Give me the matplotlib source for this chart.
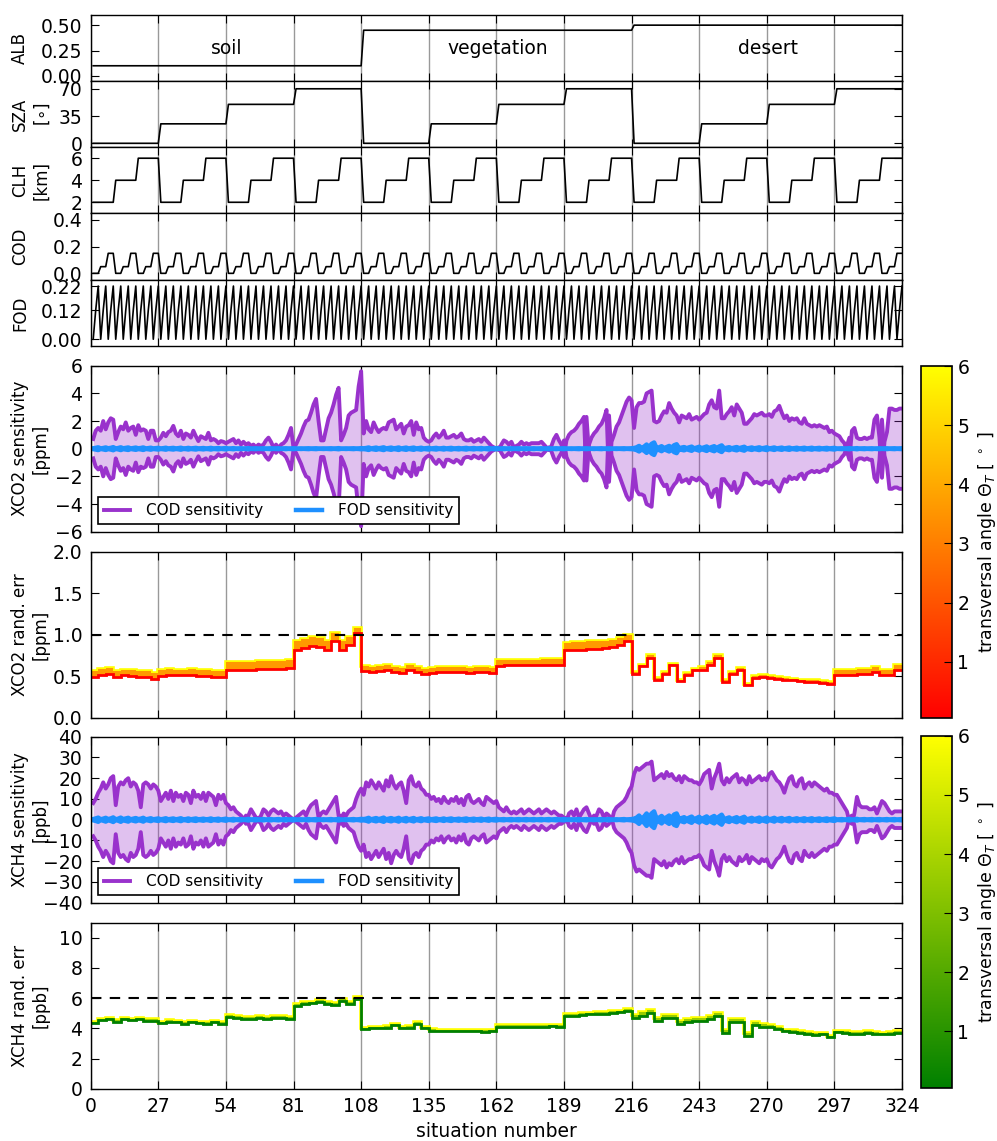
import itertools
import numpy as np
import matplotlib
matplotlib.use("Agg")
import matplotlib.pyplot as plt
from matplotlib.colors import Normalize, LinearSegmentedColormap
from matplotlib.cm import ScalarMappable

# ---- scenario design (factorial: surface x SZA x cloud height x COD x FOD) ----
surface_names = ["soil", "vegetation", "desert"]
alb_levels = [0.10, 0.45, 0.50]
sza_levels = [0, 25, 50, 70]
clh_levels = [2, 4, 6]
cod_levels = [0.0, 0.05, 0.15]
fod_levels = [0.0, 0.12, 0.22]

# ---- sensitivities per situation (1..324), one row per block of 27 ----
xco2_cod_sens = [
    0.7, 1.3, 1.5, 1.3, 2.0, 1.4, 1.9, 2.2, 2.1, 0.7, 1.2, 1.6, 1.4, 1.9, 1.3, 1.5, 1.6, 1.0, 1.7, 1.3, 1.4, 1.3, 0.7, 1.3, 1.3, 0.6, 0.6,
    0.8, 1.15, 0.9, 1.2, 1.3, 1.65, 1.1, 0.9, 1.3, 0.7, 1.1, 1.0, 0.8, 1.3, 0.9, 0.55, 0.9, 0.8, 0.7, 1.15, 0.6, 0.7, 0.6, 0.4, 0.55, 0.5, 0.4,
    0.5, 0.6, 0.7, 0.4, 0.6, 0.3, 0.5, 0.3, 0.4, 0.2, 0.3, 0.1, 0.3, 0.2, 0.3, 0.6, 0.8, 0.5, 0.1, -0.3, -0.1, 0.3, 0.4, 0.6, 1.0, 1.5, 0.05,
    0.3, 0.7, 1.1, 1.6, 2.0, 2.1, 2.6, 3.2, 3.6, 2.0, 0.6, 0.6, 1.4, 2.2, 2.6, 3.2, 3.9, 4.4, 0.6, 1.0, 1.5, 2.4, 2.6, 2.7, 2.8, 4.5, 5.6,
    1.1, 2.0, 1.4, 1.2, 1.9, 1.5, 1.2, 1.4, 1.5, 1.4, 1.9, 2.0, 2.1, 1.4, 1.6, 1.8, 1.1, 1.6, 1.7, 2.0, 1.0, 1.9, 1.4, 1.5, 0.8, 0.6, 0.5,
    0.6, 0.9, 1.1, 0.8, 1.0, 1.3, 0.8, 0.8, 0.9, 1.0, 0.8, 0.9, 1.1, 0.7, 0.6, 0.6, 0.7, 0.5, 0.6, 0.7, 0.5, 0.8, 0.6, 0.4, 0.2, 0.1, 0.0,
    -0.1, 0.3, 0.6, 0.5, 0.3, 0.5, 0.1, 0.2, 0.3, 0.5, 0.3, 0.4, 0.3, 0.4, 0.4, 0.4, 0.4, 0.5, 0.3, 0.1, -0.1, 0.2, 0.7, 1.0, 0.6, 0.3, -0.6,
    0.6, 1.0, 1.2, 1.3, 1.5, 1.8, 2.0, 2.3, -2.3, 0.3, 0.8, 1.1, 1.3, 1.6, 1.8, 2.2, 2.8, -2.4, 0.5, 1.0, 1.6, 1.9, 2.4, 2.9, 3.4, 3.7, 3.5,
    1.5, 3.0, 3.3, 3.3, 3.4, 4.0, 4.1, 4.2, 2.0, 1.9, 2.0, 2.4, 2.7, 2.6, 3.3, 2.9, 2.6, 2.4, 1.9, 2.4, 2.3, 2.2, 2.5, 2.1, 2.2, 2.3, 2.1,
    2.3, 2.5, 2.6, 3.2, 3.5, 3.0, 2.9, 4.2, 2.2, 2.2, 2.5, 2.7, 3.0, 2.4, 3.2, 2.9, 2.6, 1.8, 1.8, 2.0, 2.2, 2.5, 2.4, 2.5, 2.6, 2.4, 2.4,
    2.5, 2.3, 2.7, 2.8, 3.1, 2.6, 2.2, 2.4, 2.0, 2.2, 2.1, 2.2, 1.9, 1.8, 2.2, 1.8, 1.7, 1.6, 1.7, 1.6, 1.7, 1.6, 1.5, 1.6, 1.2, 1.3, 1.1,
    1.0, 0.9, 0.6, 0.4, -0.2, -0.8, 1.3, 1.5, 0.8, 0.7, 0.7, 0.8, 0.7, 0.8, 0.8, 2.1, 2.4, 0.8, -2.1, 0.5, 1.2, 2.9, 2.9, 2.8, 2.8, 2.9, 2.9,
]
xco2_fod_sens = [
    0.03, 0.06, 0.10, 0.02, 0.05, 0.09, 0.03, 0.06, 0.11, 0.02, 0.05, 0.10, 0.03, 0.06, 0.09, 0.02, 0.05, 0.08, 0.03, 0.05, 0.09, 0.02, 0.04, 0.07, 0.02, 0.04, 0.06,
    0.02, 0.04, 0.07, 0.02, 0.04, 0.06, 0.02, 0.04, 0.07, 0.02, 0.03, 0.06, 0.02, 0.04, 0.06, 0.02, 0.03, 0.05, 0.02, 0.03, 0.06, 0.02, 0.03, 0.05, 0.01, 0.03, 0.05,
    0.01, 0.02, 0.04, 0.01, 0.02, 0.03, 0.01, 0.02, 0.04, 0.01, 0.02, 0.03, 0.01, 0.02, 0.03, 0.01, 0.02, 0.03, 0.01, 0.02, 0.03, 0.01, 0.02, 0.03, 0.01, 0.02, 0.03,
    0.01, 0.01, 0.02, 0.01, 0.02, 0.03, 0.01, 0.02, 0.03, 0.01, 0.01, 0.02, 0.01, 0.02, 0.03, 0.01, 0.02, 0.04, 0.01, 0.01, 0.02, 0.01, 0.02, 0.03, 0.01, 0.02, 0.04,
    0.03, 0.05, 0.09, 0.02, 0.05, 0.08, 0.03, 0.06, 0.10, 0.02, 0.05, 0.08, 0.03, 0.05, 0.09, 0.02, 0.05, 0.08, 0.02, 0.05, 0.08, 0.02, 0.04, 0.07, 0.02, 0.04, 0.06,
    0.02, 0.04, 0.06, 0.02, 0.03, 0.06, 0.02, 0.04, 0.06, 0.02, 0.03, 0.05, 0.02, 0.04, 0.06, 0.02, 0.03, 0.05, 0.02, 0.03, 0.05, 0.01, 0.03, 0.05, 0.01, 0.03, 0.04,
    0.01, 0.02, 0.03, 0.01, 0.02, 0.03, 0.01, 0.02, 0.03, 0.01, 0.02, 0.03, 0.01, 0.02, 0.03, 0.01, 0.02, 0.03, 0.01, 0.02, 0.03, 0.01, 0.02, 0.03, 0.01, 0.02, 0.03,
    0.01, 0.01, 0.02, 0.01, 0.02, 0.03, 0.01, 0.02, 0.03, 0.01, 0.01, 0.02, 0.01, 0.02, 0.03, 0.01, 0.02, 0.03, 0.01, 0.01, 0.02, 0.01, 0.02, 0.03, 0.01, 0.02, 0.03,
    0.05, 0.10, 0.20, 0.06, 0.15, 0.30, 0.12, 0.35, 0.45, 0.04, 0.10, 0.18, 0.05, 0.12, 0.20, 0.08, 0.25, 0.32, 0.03, 0.08, 0.12, 0.04, 0.10, 0.15, 0.03, 0.08, 0.14,
    0.04, 0.10, 0.16, 0.05, 0.12, 0.18, 0.06, 0.16, 0.24, 0.03, 0.07, 0.11, 0.03, 0.08, 0.12, 0.04, 0.09, 0.14, 0.02, 0.05, 0.09, 0.03, 0.06, 0.10, 0.03, 0.06, 0.10,
    0.02, 0.05, 0.09, 0.02, 0.05, 0.08, 0.02, 0.05, 0.08, 0.02, 0.04, 0.07, 0.02, 0.04, 0.07, 0.02, 0.04, 0.07, 0.02, 0.04, 0.06, 0.02, 0.04, 0.06, 0.02, 0.04, 0.06,
    0.01, 0.02, 0.03, 0.01, 0.02, 0.04, 0.01, 0.02, 0.04, 0.01, 0.02, 0.03, 0.01, 0.02, 0.03, 0.01, 0.02, 0.03, 0.01, 0.02, 0.03, 0.01, 0.02, 0.03, 0.01, 0.02, 0.03,
]
xch4_cod_sens = [
    8, 10, 13, 15, 18, 15, 17, 20, 21, 7, 16, 18, 17, 19, 20, 16, 18, 17, 14, 6, 17, 18, 17, 15, 17, 16, 14,
    9, 11, 13, 10, 14, 9, 13, 11, 12, 9, 13, 12, 8, 14, 11, 12, 10, 13, 9, 13, 12, 11, 7, 12, 10, 12, 8,
    7, 5, 6, 4, 3, 2, 0.5, -2, 2, 5, 3, 1, -1, 2, 5, 4, 2, 4, 5, 4, 3, 4, 2, 3, 2, 1, 0,
    1, 2, 3, 4, 2, 5, 7, 8, 9, 1, 3, 4, 3, 5, 7, 9, 11, 2, -2, 3, 2, 4, 5, 6, 10, 13, 15,
    12, 18, 16, 19, 17, 15, 18, 16, 14, 19, 16, 21, 17, 15, 17, 18, 14, 8, 19, 21, 17, 16, 18, 15, 14, 12, 12,
    10, 11, 9, 10, 8, 11, 9, 8, 10, 9, 11, 8, 10, 7, 11, 12, 9, 8, 9, 10, 8, 7, 11, 10, 9, 8, 9,
    6, 5, 4, 6, 4, 3, 4, 3, 4, 5, 3, 4, 5, 4, 3, 4, 5, 3, 4, 5, 4, 3, 4, 3, 2, 2, 1,
    -1, 3, 4, 2, 5, 1, 3, 5, 6, 3, 0, -2, 2, 5, 4, 1, 3, 2, -1, 4, 6, 7, 8, 9, 11, 14, 16,
    22, 25, 24, 25, 26, 27, 27, 28, 19, 20, 21, 22, 20, 23, 21, 22, 20, 19, 21, 18, 21, 20, 19, 19, 18, 18, 17,
    19, 22, 23, 24, 15, 20, 23, 27, 19, 17, 20, 18, 20, 21, 22, 18, 20, 19, 17, 21, 18, 19, 20, 21, 19, 20, 19,
    22, 23, 21, 19, 18, 16, 13, 17, 20, 21, 17, 16, 19, 20, 15, 17, 18, 16, 18, 17, 16, 15, 14, 15, 13, 13, 12,
    12, 10, 8, 6, 4, -1, -2, 3, 11, 7, 6, 6, 6, 5, 5, 6, 3, 6, 9, 8, 6, 4, 3, 4, 4, 4, 4,
]
xch4_fod_sens = [
    0.3, 0.6, 1.0, 0.2, 0.5, 0.9, 0.3, 0.6, 1.1, 0.2, 0.5, 1.0, 0.3, 0.6, 0.9, 0.2, 0.5, 0.8, 0.3, 0.5, 0.9, 0.2, 0.4, 0.7, 0.2, 0.4, 0.6,
    0.2, 0.4, 0.7, 0.2, 0.4, 0.6, 0.2, 0.4, 0.7, 0.2, 0.3, 0.6, 0.2, 0.4, 0.6, 0.2, 0.3, 0.5, 0.2, 0.3, 0.6, 0.2, 0.3, 0.5, 0.1, 0.3, 0.5,
    0.1, 0.2, 0.4, 0.1, 0.2, 0.3, 0.1, 0.2, 0.4, 0.1, 0.2, 0.3, 0.1, 0.2, 0.3, 0.1, 0.2, 0.3, 0.1, 0.2, 0.3, 0.1, 0.2, 0.3, 0.1, 0.2, 0.3,
    0.1, 0.1, 0.2, 0.1, 0.2, 0.3, 0.1, 0.2, 0.3, 0.1, 0.1, 0.2, 0.1, 0.2, 0.3, 0.1, 0.2, 0.4, 0.1, 0.1, 0.2, 0.1, 0.2, 0.3, 0.1, 0.2, 0.4,
    0.3, 0.5, 0.9, 0.2, 0.5, 0.8, 0.3, 0.6, 1.0, 0.2, 0.5, 0.8, 0.3, 0.5, 0.9, 0.2, 0.5, 0.8, 0.2, 0.5, 0.8, 0.2, 0.4, 0.7, 0.2, 0.4, 0.6,
    0.2, 0.4, 0.6, 0.2, 0.3, 0.6, 0.2, 0.4, 0.6, 0.2, 0.3, 0.5, 0.2, 0.4, 0.6, 0.2, 0.3, 0.5, 0.2, 0.3, 0.5, 0.1, 0.3, 0.5, 0.1, 0.3, 0.4,
    0.1, 0.2, 0.3, 0.1, 0.2, 0.3, 0.1, 0.2, 0.3, 0.1, 0.2, 0.3, 0.1, 0.2, 0.3, 0.1, 0.2, 0.3, 0.1, 0.2, 0.3, 0.1, 0.2, 0.3, 0.1, 0.2, 0.3,
    0.1, 0.1, 0.2, 0.1, 0.2, 0.3, 0.1, 0.2, 0.3, 0.1, 0.1, 0.2, 0.1, 0.2, 0.3, 0.1, 0.2, 0.3, 0.1, 0.1, 0.2, 0.1, 0.2, 0.3, 0.1, 0.2, 0.3,
    0.5, 1.0, 2.0, 0.6, 1.5, 3.0, 1.2, 3.0, 4.0, 0.4, 1.0, 1.8, 0.5, 1.2, 2.0, 0.8, 2.5, 3.0, 0.3, 0.8, 1.2, 0.4, 1.0, 1.5, 0.3, 0.8, 1.4,
    0.4, 1.0, 1.6, 0.5, 1.2, 1.8, 0.6, 1.6, 2.4, 0.3, 0.7, 1.1, 0.3, 0.8, 1.2, 0.4, 0.9, 1.4, 0.2, 0.5, 0.9, 0.3, 0.6, 1.0, 0.3, 0.6, 1.0,
    0.2, 0.5, 0.9, 0.2, 0.5, 0.8, 0.2, 0.5, 0.8, 0.2, 0.4, 0.7, 0.2, 0.4, 0.7, 0.2, 0.4, 0.7, 0.2, 0.4, 0.6, 0.2, 0.4, 0.6, 0.2, 0.4, 0.6,
    0.1, 0.2, 0.3, 0.1, 0.2, 0.4, 0.1, 0.2, 0.4, 0.1, 0.2, 0.3, 0.1, 0.2, 0.3, 0.1, 0.2, 0.3, 0.1, 0.2, 0.3, 0.1, 0.2, 0.3, 0.1, 0.2, 0.3,
]

# ---- random errors per group of 3 situations, at smallest and largest transversal angle ----
xco2_err_lo = [
    0.49, 0.52, 0.53, 0.49, 0.51, 0.50, 0.49, 0.49, 0.47,
    0.50, 0.52, 0.51, 0.51, 0.52, 0.50, 0.50, 0.49, 0.49,
    0.58, 0.58, 0.58, 0.58, 0.59, 0.59, 0.59, 0.59, 0.60,
    0.82, 0.84, 0.86, 0.85, 0.82, 0.93, 0.82, 0.87, 1.02,
    0.56, 0.55, 0.56, 0.58, 0.55, 0.54, 0.58, 0.55, 0.53,
    0.54, 0.55, 0.55, 0.55, 0.55, 0.54, 0.55, 0.55, 0.54,
    0.62, 0.63, 0.63, 0.63, 0.63, 0.63, 0.64, 0.64, 0.64,
    0.81, 0.82, 0.82, 0.83, 0.83, 0.84, 0.85, 0.87, 0.93,
    0.53, 0.62, 0.72, 0.46, 0.53, 0.63, 0.44, 0.52, 0.57,
    0.58, 0.64, 0.72, 0.43, 0.53, 0.58, 0.39, 0.48, 0.49,
    0.48, 0.47, 0.46, 0.45, 0.44, 0.43, 0.43, 0.42, 0.41,
    0.51, 0.51, 0.52, 0.53, 0.53, 0.55, 0.51, 0.52, 0.58,
]
xco2_err_hi = [
    0.56, 0.59, 0.60, 0.56, 0.58, 0.57, 0.56, 0.56, 0.54,
    0.57, 0.59, 0.58, 0.58, 0.59, 0.57, 0.57, 0.56, 0.56,
    0.67, 0.67, 0.67, 0.67, 0.68, 0.68, 0.68, 0.68, 0.69,
    0.93, 0.95, 0.97, 0.96, 0.93, 1.02, 0.92, 0.97, 1.08,
    0.62, 0.61, 0.62, 0.64, 0.61, 0.60, 0.64, 0.61, 0.59,
    0.60, 0.61, 0.61, 0.61, 0.61, 0.60, 0.61, 0.61, 0.60,
    0.69, 0.70, 0.70, 0.70, 0.70, 0.70, 0.71, 0.71, 0.71,
    0.90, 0.91, 0.91, 0.92, 0.92, 0.93, 0.94, 0.96, 1.00,
    0.55, 0.64, 0.75, 0.48, 0.55, 0.65, 0.46, 0.54, 0.59,
    0.61, 0.67, 0.75, 0.45, 0.55, 0.60, 0.41, 0.50, 0.51,
    0.50, 0.49, 0.48, 0.47, 0.46, 0.45, 0.45, 0.44, 0.43,
    0.57, 0.57, 0.58, 0.59, 0.59, 0.61, 0.57, 0.58, 0.64,
]
xch4_err_lo = [
    4.35, 4.55, 4.60, 4.45, 4.60, 4.55, 4.60, 4.50, 4.50,
    4.35, 4.45, 4.40, 4.30, 4.40, 4.35, 4.30, 4.40, 4.30,
    4.75, 4.70, 4.65, 4.65, 4.70, 4.65, 4.68, 4.68, 4.65,
    5.50, 5.60, 5.65, 5.75, 5.60, 5.55, 5.80, 5.60, 5.95,
    3.95, 4.00, 4.00, 4.05, 4.20, 4.00, 4.05, 4.30, 4.00,
    3.85, 3.80, 3.80, 3.80, 3.82, 3.80, 3.80, 3.78, 3.80,
    4.10, 4.10, 4.10, 4.12, 4.10, 4.12, 4.12, 4.15, 4.12,
    4.85, 4.85, 4.90, 4.92, 4.95, 4.95, 5.00, 5.05, 5.15,
    4.70, 4.85, 5.00, 4.50, 4.70, 4.70, 4.30, 4.45, 4.50,
    4.50, 4.60, 4.80, 3.70, 4.40, 4.45, 3.50, 4.20, 4.10,
    4.10, 3.95, 3.80, 3.75, 3.70, 3.65, 3.55, 3.60, 3.40,
    3.75, 3.70, 3.65, 3.65, 3.70, 3.65, 3.60, 3.65, 3.70,
]
xch4_err_hi = [
    4.45, 4.65, 4.70, 4.55, 4.70, 4.65, 4.70, 4.60, 4.60,
    4.45, 4.55, 4.50, 4.40, 4.50, 4.45, 4.40, 4.50, 4.40,
    4.87, 4.82, 4.77, 4.77, 4.82, 4.77, 4.80, 4.80, 4.77,
    5.62, 5.72, 5.77, 5.87, 5.72, 5.67, 5.92, 5.72, 6.07,
    4.05, 4.10, 4.10, 4.15, 4.30, 4.10, 4.15, 4.40, 4.10,
    3.95, 3.90, 3.90, 3.90, 3.92, 3.90, 3.90, 3.88, 3.90,
    4.20, 4.20, 4.20, 4.22, 4.20, 4.22, 4.22, 4.25, 4.22,
    4.97, 4.97, 5.02, 5.04, 5.07, 5.07, 5.12, 5.17, 5.27,
    4.90, 5.05, 5.20, 4.70, 4.90, 4.90, 4.50, 4.65, 4.70,
    4.70, 4.80, 5.00, 3.90, 4.60, 4.65, 3.70, 4.40, 4.30,
    4.22, 4.07, 3.92, 3.87, 3.82, 3.77, 3.67, 3.72, 3.52,
    3.85, 3.80, 3.75, 3.75, 3.80, 3.75, 3.70, 3.75, 3.80,
]
xco2_err_target = 1.0
xch4_err_target = 6.0
angle_min, angle_max = 0.05, 6.0

# ---- style ----
plt.rcParams.update({
    "font.family": "DejaVu Sans",
    "xtick.direction": "in", "ytick.direction": "in",
    "xtick.top": True, "ytick.right": True,
    "xtick.major.size": 6, "ytick.major.size": 6,
    "xtick.major.pad": 6, "ytick.major.pad": 6,
    "xtick.labelsize": 13.5, "ytick.labelsize": 13.5,
    "axes.linewidth": 1.0,
})

design = np.array(list(itertools.product(alb_levels, sza_levels, clh_levels, cod_levels, fod_levels)))
alb, sza, clh, cod, fod = design.T
situation = np.arange(1, len(design) + 1)
group_edges = np.arange(0, len(design) + 1, 3)

W, H = 997, 1141
fig = plt.figure(figsize=(W / 100, H / 100), dpi=100)


def add_panel(top, bottom, left=90.7, right=902.0):
    return fig.add_axes([left / W, 1 - bottom / H, (right - left) / W, (bottom - top) / H])


xticks = np.arange(0, 325, 27)


def style(ax, label, ylim, yticks):
    ax.set_xlim(0, 324)
    ax.set_xticks(xticks)
    ax.set_ylim(*ylim)
    ax.set_yticks(yticks)
    ax.grid(axis="x", color="0.6", lw=1)
    ax.set_axisbelow(True)
    ax.set_ylabel(label, fontsize=12, va="top")
    ax.yaxis.set_label_coords(-0.098, 0.5)


# top parameter panels
params = [
    ("ALB", alb, (-0.05, 0.6), [0, 0.25, 0.5]),
    ("SZA\n[$\\circ$]", sza, (-5, 80), [0, 35, 70]),
    ("CLH\n[km]", clh, (1, 7), [2, 4, 6]),
    ("COD", cod, (-0.05, 0.45), [0, 0.2, 0.4]),
    ("FOD", fod, (-0.028, 0.245), [0, 0.12, 0.22]),
]
tops = [15.0, 81.0, 147.2, 213.3, 280.0]
bottoms = [81.0, 147.2, 213.3, 280.0, 346.0]
for (label, values, ylim, yticks), top, bottom in zip(params, tops, bottoms):
    ax = add_panel(top, bottom)
    ax.plot(situation, values, color="black", lw=1.2)
    style(ax, label, ylim, yticks)
    ax.set_xticklabels([])
    if label == "ALB":
        for name, level in zip(surface_names, alb_levels):
            xc = situation[alb == level].mean()
            ax.text(xc, 0.27, name, ha="center", va="center", fontsize=13.5)

cmap_co2 = plt.get_cmap("autumn")
cmap_ch4 = LinearSegmentedColormap.from_list("green_yellow", ["green", "yellow"])
norm = Normalize(angle_min, angle_max)


def sens_panel(top, bottom, cod_s, fod_s, label, ylim, yticks):
    ax = add_panel(top, bottom)
    cod_s = np.asarray(cod_s, float)
    fod_s = np.asarray(fod_s, float)
    ax.fill_between(situation, cod_s, -cod_s, color="darkorchid", alpha=0.3, lw=0)
    ax.plot(situation, cod_s, color="darkorchid", lw=2.8, label="COD sensitivity")
    ax.plot(situation, -cod_s, color="darkorchid", lw=2.8)
    ax.fill_between(situation, fod_s, -fod_s, color="dodgerblue", lw=0)
    ax.plot(situation, fod_s, color="dodgerblue", lw=3.2, label="FOD sensitivity")
    ax.plot(situation, -fod_s, color="dodgerblue", lw=3.2)
    style(ax, label, ylim, yticks)
    ax.set_xticklabels([])
    leg = ax.legend(loc="lower left", ncol=2, fontsize=11, fancybox=False, framealpha=1,
                    edgecolor="black", handlelength=1.7, handletextpad=1.0,
                    columnspacing=2.2, borderaxespad=0.5)
    leg.get_frame().set_linewidth(1.2)
    return ax


def err_panel(top, bottom, lo, hi, cmap, target, label, ylim, yticks):
    ax = add_panel(top, bottom)
    ax.stairs(hi, group_edges, baseline=None, color=cmap(1.0), lw=2.6)
    ax.stairs(hi, group_edges, baseline=lo, fill=True, color=cmap(0.6), lw=0)
    ax.stairs(lo, group_edges, baseline=None, color=cmap(0.0), lw=2.0)
    ax.axhline(target, color="black", lw=1.5, ls=(0, (5, 4)))
    style(ax, label, ylim, yticks)
    return ax


sens_panel(365.7, 531.7, xco2_cod_sens, xco2_fod_sens, "XCO2 sensitivity\n[ppm]", (-6, 6), np.arange(-6, 7, 2))
ax = err_panel(551.7, 717.7, xco2_err_lo, xco2_err_hi, cmap_co2, xco2_err_target,
               "XCO2 rand. err\n[ppm]", (0, 2), np.arange(0, 2.01, 0.5))
ax.set_xticklabels([])
sens_panel(736.7, 902.7, xch4_cod_sens, xch4_fod_sens, "XCH4 sensitivity\n[ppb]", (-40, 40), np.arange(-40, 41, 10))
ax = err_panel(922.7, 1088.7, xch4_err_lo, xch4_err_hi, cmap_ch4, xch4_err_target,
               "XCH4 rand. err\n[ppb]", (0, 11), np.arange(0, 11, 2))
ax.set_xlabel("situation number", fontsize=13.5)

# colorbars
for top, bottom, cmap in [(366.0, 718.0, cmap_co2), (735.7, 1087.7, cmap_ch4)]:
    cax = fig.add_axes([921 / W, 1 - bottom / H, 30.7 / W, (bottom - top) / H])
    cb = fig.colorbar(ScalarMappable(norm=norm, cmap=cmap), cax=cax, ticks=[1, 2, 3, 4, 5, 6])
    cb.outline.set_linewidth(1.2)
    cb.ax.tick_params(labelsize=13.5, direction="in", length=6, pad=4, right=True, left=False)
    cb.set_label("transversal angle $\\Theta_T$ [ $^\\circ$ ]", fontsize=12.5, labelpad=5)

fig.savefig("out.png", dpi=100, facecolor="white")
